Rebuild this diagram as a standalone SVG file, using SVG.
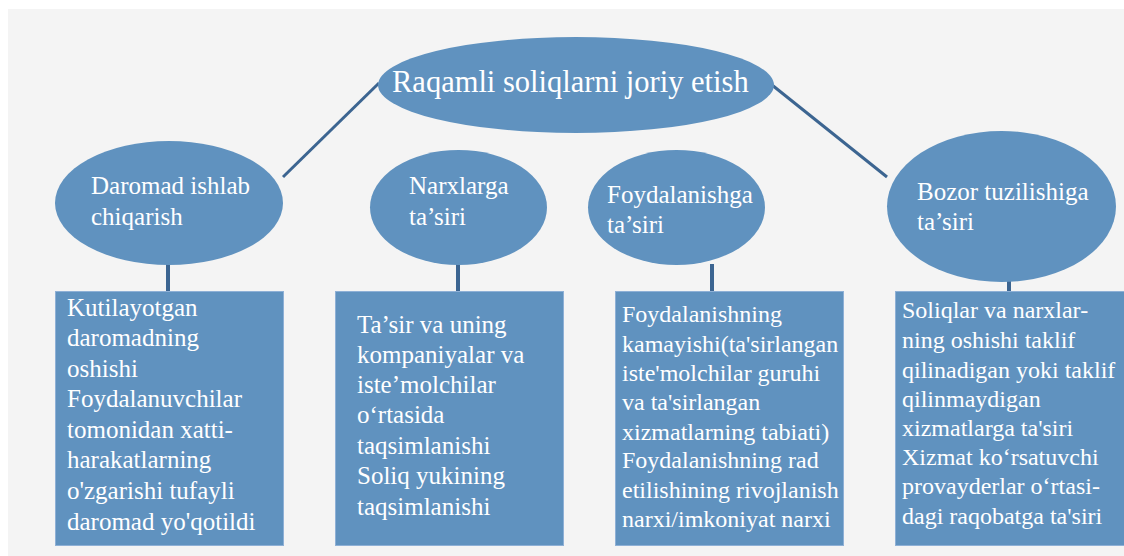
<svg xmlns="http://www.w3.org/2000/svg" width="1124" height="556" viewBox="0 0 1124 556">
<style>
.bg{fill:#f4f4f4}
.node{fill:#6092bf}
.box{fill:#6092bf;stroke:#8eb0d6;stroke-width:1}
.con{stroke:#3c6591;stroke-width:3;fill:none}
.stub{stroke:#3c6591;stroke-width:4;fill:none}
text{font-family:"Liberation Serif","Times New Roman",serif;fill:#ffffff}
.t25{font-size:25px}
.t24{font-size:24px}
.t30{font-size:30.5px}
</style>
<rect x="0" y="0" width="1124" height="556" fill="#ffffff"/>
<rect class="bg" x="8" y="9" width="1116" height="547"/>
<g id="connectors">
<line class="con" x1="379" y1="83" x2="283" y2="177"/>
<line class="con" x1="772" y1="85" x2="887" y2="177"/>
<line class="stub" x1="168" y1="264" x2="168" y2="291"/>
<line class="stub" x1="458" y1="264" x2="458" y2="291"/>
<line class="stub" x1="712" y1="264" x2="712" y2="291"/>
<line class="stub" x1="1009" y1="264" x2="1009" y2="291"/>
</g>
<g id="root">
<ellipse class="node" cx="576" cy="85" rx="198" ry="48"/>
<text class="t30" x="392" y="92">Raqamli soliqlarni joriy etish</text>
</g>
<g id="n1">
<ellipse class="node" cx="169" cy="203" rx="114" ry="62"/>
<text class="t25"><tspan x="91" y="194">Daromad ishlab</tspan><tspan x="91" y="225">chiqarish</tspan></text>
</g>
<g id="n2">
<ellipse class="node" cx="458.5" cy="207.5" rx="88.5" ry="57.5"/>
<text class="t25"><tspan x="409" y="194">Narxlarga</tspan><tspan x="409" y="225">ta’siri</tspan></text>
</g>
<g id="n3">
<ellipse class="node" cx="676.5" cy="207.5" rx="88.5" ry="57.5"/>
<text class="t25"><tspan x="607" y="203">Foydalanishga</tspan><tspan x="607" y="233">ta’siri</tspan></text>
</g>
<g id="n4">
<ellipse class="node" cx="1001.5" cy="206.5" rx="114.5" ry="75.5"/>
<text class="t25"><tspan x="917" y="200">Bozor tuzilishiga</tspan><tspan x="917" y="230">ta’siri</tspan></text>
</g>
<g id="b1">
<rect class="box" x="55.5" y="291.5" width="228" height="254"/>
<text class="t25">
<tspan x="67" y="315.5">Kutilayotgan</tspan>
<tspan x="67" y="346">daromadning</tspan>
<tspan x="67" y="376.5">oshishi</tspan>
<tspan x="67" y="407">Foydalanuvchilar</tspan>
<tspan x="67" y="437.5">tomonidan xatti-</tspan>
<tspan x="67" y="468">harakatlarning</tspan>
<tspan x="67" y="499">o'zgarishi tufayli</tspan>
<tspan x="67" y="530">daromad yo'qotildi</tspan>
</text>
</g>
<g id="b2">
<rect class="box" x="335.5" y="291.5" width="228" height="254"/>
<text class="t25">
<tspan x="357" y="333">Ta’sir va uning</tspan>
<tspan x="357" y="363">kompaniyalar va</tspan>
<tspan x="357" y="393">iste’molchilar</tspan>
<tspan x="357" y="423">o‘rtasida</tspan>
<tspan x="357" y="453.5">taqsimlanishi</tspan>
<tspan x="357" y="484">Soliq yukining</tspan>
<tspan x="357" y="514.5">taqsimlanishi</tspan>
</text>
</g>
<g id="b3">
<rect class="box" x="615.5" y="291.5" width="228" height="254"/>
<text class="t24">
<tspan x="622" y="322">Foydalanishning</tspan>
<tspan x="622" y="351.5">kamayishi(ta'sirlangan</tspan>
<tspan x="622" y="381">iste'molchilar guruhi</tspan>
<tspan x="622" y="410">va ta'sirlangan</tspan>
<tspan x="622" y="439.5">xizmatlarning tabiati)</tspan>
<tspan x="622" y="468">Foydalanishning rad</tspan>
<tspan x="622" y="497.5">etilishining rivojlanish</tspan>
<tspan x="622" y="527">narxi/imkoniyat narxi</tspan>
</text>
</g>
<g id="b4">
<rect class="box" x="895.5" y="291.5" width="229" height="254"/>
<text class="t24">
<tspan x="902" y="318">Soliqlar va narxlar-</tspan>
<tspan x="902" y="348">ning oshishi taklif</tspan>
<tspan x="902" y="377.5">qilinadigan yoki taklif</tspan>
<tspan x="902" y="407">qilinmaydigan</tspan>
<tspan x="902" y="436">xizmatlarga ta'siri</tspan>
<tspan x="902" y="465">Xizmat ko‘rsatuvchi</tspan>
<tspan x="902" y="494">provayderlar o‘rtasi-</tspan>
<tspan x="902" y="524">dagi raqobatga ta'siri</tspan>
</text>
</g>
</svg>
